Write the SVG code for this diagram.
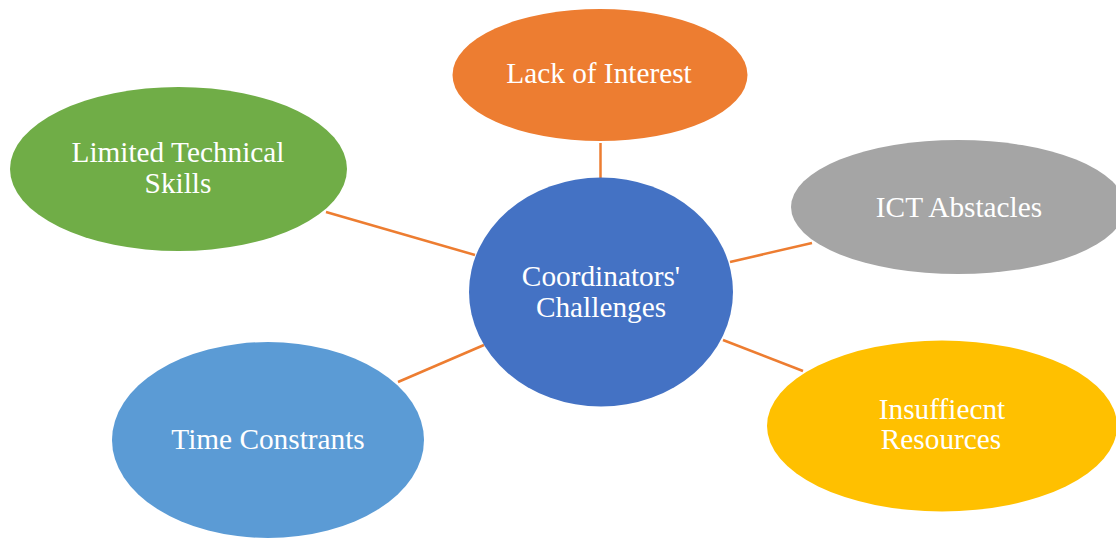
<svg xmlns="http://www.w3.org/2000/svg" width="1116" height="538" viewBox="0 0 1116 538">
<style>
.lbl{font-family:"Liberation Serif","Times New Roman",serif;font-size:29.3px;fill:#ffffff;text-anchor:middle}
.con line{stroke:#ED7D31;stroke-width:2.5;fill:none}
</style>
<rect width="1116" height="538" fill="#ffffff"/>
<g id="connectors" class="con">
<line x1="600.5" y1="143" x2="600.5" y2="178"/>
<line x1="326" y1="212" x2="475" y2="255"/>
<line x1="730" y1="262" x2="812" y2="243"/>
<line x1="398" y1="382" x2="484" y2="345"/>
<line x1="723" y1="340" x2="803" y2="371"/>
</g>
<g id="center">
<ellipse cx="601" cy="292" rx="132" ry="114.5" fill="#4472C4"/>
<text class="lbl" x="601" y="286">Coordinators'</text>
<text class="lbl" x="601" y="317">Challenges</text>
</g>
<g id="lack-of-interest">
<ellipse cx="600" cy="75" rx="147.5" ry="66" fill="#ED7D31"/>
<text class="lbl" x="599" y="83">Lack of Interest</text>
</g>
<g id="limited-technical-skills">
<ellipse cx="178.5" cy="169" rx="168.5" ry="82" fill="#70AD47"/>
<text class="lbl" x="178" y="162">Limited Technical</text>
<text class="lbl" x="178" y="193">Skills</text>
</g>
<g id="ict-abstacles">
<ellipse cx="958" cy="207" rx="167" ry="67" fill="#A5A5A5"/>
<text class="lbl" x="959" y="217">ICT Abstacles</text>
</g>
<g id="time-constrants">
<ellipse cx="268" cy="440" rx="156" ry="98" fill="#5B9BD5"/>
<text class="lbl" x="268" y="449">Time Constrants</text>
</g>
<g id="insufficient-resources">
<ellipse cx="942" cy="426" rx="175" ry="85.5" fill="#FFC000"/>
<text class="lbl" x="942" y="419">Insuffiecnt</text>
<text class="lbl" x="941" y="449">Resources</text>
</g>
</svg>
